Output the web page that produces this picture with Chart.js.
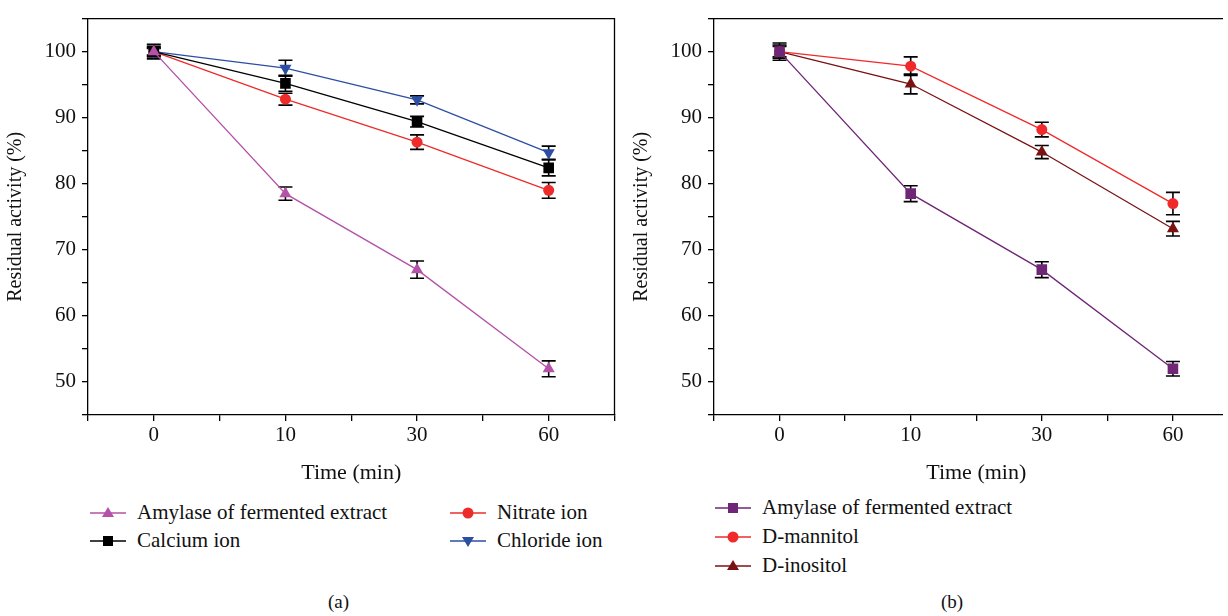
<!DOCTYPE html>
<html>
<head>
<meta charset="utf-8">
<script src="https://cdn.jsdelivr.net/npm/chart.js@4.4.1/dist/chart.umd.min.js"></script>
<style>
  html, body { margin: 0; padding: 0; background: #fff; overflow: hidden; }
  body { width: 1228px; height: 616px; position: relative; font-family: "Liberation Serif", "DejaVu Serif", serif; color: #111; }
  .clip { position: absolute; top: 0; height: 490px; overflow: hidden; }
  .legend { position: absolute; font-size: 21px; }
  .item { position: absolute; display: flex; align-items: center; white-space: nowrap; }
  .item svg { margin-right: 11px; }
  .caption { position: absolute; top: 591px; font-size: 19px; }
</style>
</head>
<body>
<div class="clip" style="left:0;width:622px"><canvas id="chartA" width="622" height="490"></canvas></div>
<div class="clip" style="left:626px;width:597px"><canvas id="chartB" width="620" height="490"></canvas></div>
<div class="legend" id="legendA"></div>
<div class="legend" id="legendB"></div>
<div class="caption" style="left:328px">(a)</div>
<div class="caption" style="left:941px">(b)</div>

<script>
// x categories (minutes)
const timeLabels = ["0", "10", "30", "60"];

// panel (a)
const namesA = ["Amylase of fermented extract", "Calcium ion", "Nitrate ion", "Chloride ion"];
const amylaseA = [100, 78.5, 67.0, 52.0];
const calciumA = [100, 95.2, 89.4, 82.4];
const nitrateA = [100, 92.8, 86.3, 79.0];
const chlorideA = [100, 97.5, 92.7, 84.7];
const errAmylaseA = [0.8, 1.0, 1.3, 1.2];
const errCalciumA = [1.1, 1.2, 0.8, 1.2];
const errNitrateA = [0.6, 0.9, 1.1, 1.2];
const errChlorideA = [0.5, 1.2, 0.6, 1.0];
const colorsA = ["#B451A8", "#000000", "#EE2B2B", "#2C4FA3"];
const markersA = ["triangle", "rect", "circle", "triangle"];
const rotationA = [0, 0, 0, 180];

// panel (b)
const namesB = ["Amylase of fermented extract", "D-mannitol", "D-inositol"];
const amylaseB = [100, 78.5, 67.0, 52.0];
const mannitolB = [100, 97.8, 88.2, 77.0];
const inositolB = [100, 95.1, 84.8, 73.2];
const errAmylaseB = [0.8, 1.2, 1.2, 1.1];
const errMannitolB = [1.3, 1.4, 1.1, 1.7];
const errInositolB = [1.0, 1.5, 1.0, 1.1];
const colorsB = ["#6F2677", "#F02A2A", "#7A1214"];
const markersB = ["rect", "circle", "triangle"];
const rotationB = [0, 0, 0];

const FONT = "'Liberation Serif', 'DejaVu Serif', serif";

function markerRadius(style) {
    if (style === "rect") return 7.5;
    if (style === "triangle") return 7;
    return 5.5;
}

// error bars, drawn before the lines/markers
const errorBars = {
    id: "errorBars",
    beforeDatasetsDraw(chart) {
        const ctx = chart.ctx;
        const x = chart.scales.x, y = chart.scales.y;
        ctx.save();
        ctx.strokeStyle = "#000";
        ctx.lineWidth = 1.6;
        chart.data.datasets.forEach(ds => {
            ds.data.forEach((p, i) => {
                const e = ds.errors[i];
                const px = x.getPixelForValue(p.x);
                const top = y.getPixelForValue(p.y + e);
                const bot = y.getPixelForValue(p.y - e);
                ctx.beginPath();
                ctx.moveTo(px, top); ctx.lineTo(px, bot);
                ctx.moveTo(px - 7, top); ctx.lineTo(px + 7, top);
                ctx.moveTo(px - 7, bot); ctx.lineTo(px + 7, bot);
                ctx.stroke();
            });
        });
        ctx.restore();
    }
};

// top and right edges of the plot box (left/bottom are the axes)
const frame = {
    id: "frame",
    afterDraw(chart) {
        const a = chart.chartArea, ctx = chart.ctx;
        ctx.save();
        ctx.strokeStyle = "#000";
        ctx.lineWidth = 1.3;
        ctx.beginPath();
        ctx.moveTo(a.left, a.top);
        ctx.lineTo(a.right, a.top);
        ctx.lineTo(a.right, a.bottom);
        ctx.stroke();
        ctx.restore();
    }
};

function makeChart(id, names, series, errors, colors, markers, rotations) {
    const datasets = names.map((n, k) => ({
        label: n,
        data: series[k].map((v, i) => ({ x: i, y: v })),
        errors: errors[k],
        borderColor: colors[k],
        backgroundColor: colors[k],
        borderWidth: 1.3,
        pointStyle: markers[k],
        pointRotation: rotations[k],
        pointRadius: markerRadius(markers[k]),
        pointBorderWidth: 0,
        tension: 0
    }));

    return new Chart(document.getElementById(id), {
        type: "line",
        data: { datasets },
        options: {
            responsive: false,
            animation: false,
            layout: { padding: { top: 17, right: 5, left: 0, bottom: 0 } },
            plugins: { legend: { display: false }, tooltip: { enabled: false } },
            scales: {
                x: {
                    type: "linear",
                    min: -0.5, max: 3.5,
                    afterFit(s) { s.height = 75; },
                    ticks: {
                        stepSize: 0.5, autoSkip: false, maxRotation: 0, padding: 2, color: "#111",
                        font: { family: FONT, size: 21 },
                        callback: v => Number.isInteger(v) ? timeLabels[v] : ""
                    },
                    grid: { drawOnChartArea: false, drawTicks: true, tickLength: 6, color: "#000", lineWidth: 1.3 },
                    border: { color: "#000", width: 1.3 },
                    title: { display: true, text: "Time (min)", color: "#111", font: { family: FONT, size: 22 }, padding: { top: 6 } }
                },
                y: {
                    min: 45, max: 105,
                    afterFit(s) { s.width = 88; },
                    ticks: {
                        stepSize: 5, padding: 6, color: "#111",
                        font: { family: FONT, size: 21 },
                        callback: v => (v % 10 === 0) ? String(v) : ""
                    },
                    grid: { drawOnChartArea: false, drawTicks: true, tickLength: 6, color: "#000", lineWidth: 1.3 },
                    border: { color: "#000", width: 1.3 },
                    title: { display: true, text: "Residual activity (%)", color: "#111", font: { family: FONT, size: 20 }, padding: { bottom: 2 } }
                }
            }
        },
        plugins: [errorBars, frame]
    });
}

function sampleSvg(color, marker, rot) {
    let m;
    if (marker === "circle") m = `<circle cx="18" cy="10" r="5.5" fill="${color}"/>`;
    else if (marker === "rect") m = `<rect x="13" y="5" width="10" height="10" fill="${color}"/>`;
    else m = `<polygon points="18,4 24,14 12,14" fill="${color}" transform="rotate(${rot} 18 10)"/>`;
    return `<svg width="36" height="20"><line x1="0" y1="10" x2="36" y2="10" stroke="${color}" stroke-width="1.5"/>${m}</svg>`;
}

function buildLegend(el, names, colors, markers, rotations, spots) {
    names.forEach((n, k) => {
        const d = document.createElement("div");
        d.className = "item";
        d.style.left = spots[k][0] + "px";
        d.style.top = (spots[k][1] - 12) + "px";
        d.innerHTML = sampleSvg(colors[k], markers[k], rotations[k]) + "<span>" + n + "</span>";
        el.appendChild(d);
    });
}

makeChart("chartA", namesA, [amylaseA, calciumA, nitrateA, chlorideA],
    [errAmylaseA, errCalciumA, errNitrateA, errChlorideA], colorsA, markersA, rotationA);
makeChart("chartB", namesB, [amylaseB, mannitolB, inositolB],
    [errAmylaseB, errMannitolB, errInositolB], colorsB, markersB, rotationB);

buildLegend(document.getElementById("legendA"), namesA, colorsA, markersA, rotationA,
    [[90, 512], [90, 540], [450, 512], [450, 540]]);
buildLegend(document.getElementById("legendB"), namesB, colorsB, markersB, rotationB,
    [[715, 507], [715, 536], [715, 565]]);
</script>
</body>
</html>
